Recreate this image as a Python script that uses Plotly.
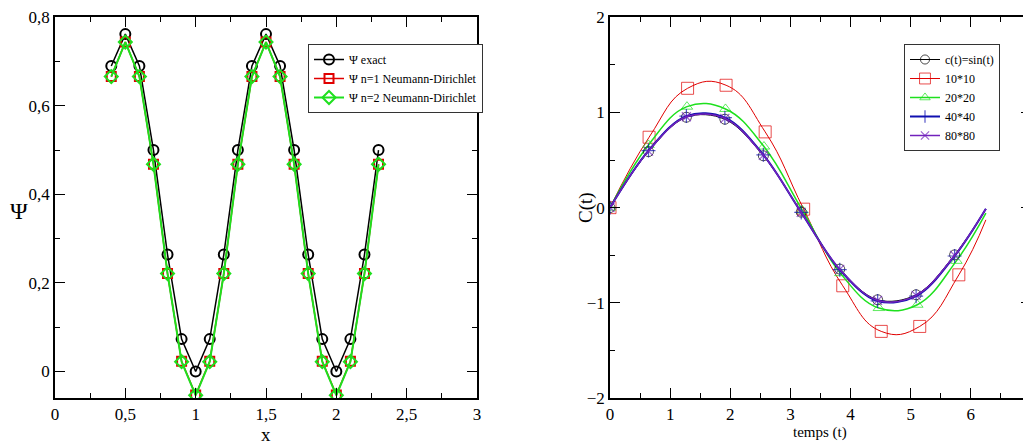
import plotly.graph_objects as go

# ---------------- data: left panel ----------------
x_psi = [0.4, 0.5, 0.6, 0.7, 0.8, 0.9, 1.0, 1.1, 1.2, 1.3, 1.4, 1.5, 1.6, 1.7, 1.8, 1.9, 2.0, 2.1, 2.2, 2.3]
psi_exact = [0.690, 0.762, 0.690, 0.500, 0.264, 0.073, 0.000, 0.073, 0.264, 0.500,
             0.690, 0.762, 0.690, 0.500, 0.264, 0.073, 0.000, 0.073, 0.264, 0.500]
psi_n1 = [0.666, 0.744, 0.666, 0.468, 0.221, 0.023, -0.053, 0.023, 0.221, 0.468,
          0.666, 0.744, 0.666, 0.468, 0.221, 0.023, -0.053, 0.023, 0.221, 0.468]
psi_n2 = [0.666, 0.744, 0.666, 0.468, 0.221, 0.022, -0.054, 0.022, 0.221, 0.468,
          0.666, 0.744, 0.666, 0.468, 0.221, 0.022, -0.054, 0.022, 0.221, 0.468]

# ---------------- data: right panel ----------------
t_common = [0, 0.64, 1.27, 1.91, 2.55, 3.18, 3.82, 4.45, 5.09, 5.73, 6.25]
c_sin = [0, 0.589, 0.950, 0.929, 0.545, -0.047, -0.646, -0.968, -0.915, -0.496, -0.016]
t_10 = [0, 0.65, 1.29, 1.93, 2.58, 3.22, 3.87, 4.51, 5.15, 5.80, 6.25]
c_10 = [0, 0.740, 1.254, 1.286, 0.796, -0.016, -0.821, -1.300, -1.248, -0.706, -0.128]
t_20 = [0, 0.64, 1.28, 1.92, 2.56, 3.20, 3.83, 4.47, 5.11, 5.76, 6.25]
c_20 = [0, 0.659, 1.061, 1.037, 0.642, -0.030, -0.688, -1.055, -1.020, -0.559, -0.058]
c_40 = [0, 0.600, 0.962, 0.945, 0.555, -0.050, -0.652, -0.980, -0.930, -0.508, -0.012]
c_80 = [0, 0.594, 0.955, 0.938, 0.550, -0.049, -0.648, -0.975, -0.922, -0.502, -0.014]

# ---------------- styling ----------------
# the page body adds an 8px margin, so the figure is sized to fill the rest of the window
OFF = 8
W, H = 1031 - OFF, 444 - OFF
FONT = "Liberation Serif"
RED = "#e00000"
GREEN = "#1ee01e"
BLUE = "#1010b0"
INDIGO = "#7221bc"

def px_x(p):
    return (p - OFF) / W

def px_y(p):
    return 1 - (p - OFF) / H

fig = go.Figure()

# left panel traces
fig.add_trace(go.Scatter(x=x_psi, y=psi_exact, mode="lines+markers", name="Ψ exact",
                         line=dict(color="black", width=1.5),
                         marker=dict(symbol="circle-open", size=10, color="black", line=dict(width=2)),
                         xaxis="x", yaxis="y", legend="legend"))
fig.add_trace(go.Scatter(x=x_psi, y=psi_n1, mode="lines+markers", name="Ψ n=1 Neumann-Dirichlet",
                         line=dict(color=RED, width=1.5),
                         marker=dict(symbol="square-open", size=9, color=RED, line=dict(width=2)),
                         xaxis="x", yaxis="y", legend="legend"))
fig.add_trace(go.Scatter(x=x_psi, y=psi_n2, mode="lines+markers", name="Ψ n=2 Neumann-Dirichlet",
                         line=dict(color=GREEN, width=2),
                         marker=dict(symbol="diamond-open", size=10, color=GREEN, line=dict(width=2)),
                         xaxis="x", yaxis="y", legend="legend"))

# right panel traces
def msize(n, s):
    return [s] * (n - 1) + [0]

fig.add_trace(go.Scatter(x=t_10, y=c_10, mode="lines+markers", name="10*10",
                         line=dict(color=RED, width=1, shape="spline", smoothing=1.3),
                         marker=dict(symbol="square-open", size=msize(len(t_10), 12), color=RED, line=dict(width=1)),
                         xaxis="x2", yaxis="y2", legend="legend2", legendrank=2))
fig.add_trace(go.Scatter(x=t_20, y=c_20, mode="lines+markers", name="20*20",
                         line=dict(color=GREEN, width=1.5, shape="spline", smoothing=1.15),
                         marker=dict(symbol="triangle-up-open", size=msize(len(t_20), 10), color=GREEN, line=dict(width=1)),
                         xaxis="x2", yaxis="y2", legend="legend2", legendrank=3))
fig.add_trace(go.Scatter(x=t_common, y=c_sin, mode="lines+markers", name="c(t)=sin(t)",
                         line=dict(color="black", width=1, shape="spline"),
                         marker=dict(symbol="circle-open", size=msize(len(t_common), 10), color="black", line=dict(width=1)),
                         xaxis="x2", yaxis="y2", legend="legend2", legendrank=1))
fig.add_trace(go.Scatter(x=t_common, y=c_40, mode="lines+markers", name="40*40",
                         line=dict(color=BLUE, width=2, shape="spline"),
                         marker=dict(symbol="cross-thin-open", size=msize(len(t_common), 10), color=BLUE, line=dict(width=1.2, color=BLUE)),
                         xaxis="x2", yaxis="y2", legend="legend2", legendrank=4))
fig.add_trace(go.Scatter(x=t_common, y=c_80, mode="lines+markers", name="80*80",
                         line=dict(color=INDIGO, width=1.5, shape="spline"),
                         marker=dict(symbol="x-thin-open", size=msize(len(t_common), 9), color=INDIGO, line=dict(width=1.2, color=INDIGO)),
                         xaxis="x2", yaxis="y2", legend="legend2", legendrank=5))

axis_common = dict(showgrid=False, zeroline=False, showline=True, linecolor="black", linewidth=1.5,
                   mirror="ticks", ticks="inside", ticklen=10, tickwidth=1.2, tickcolor="black",
                   automargin=False,
                   tickfont=dict(family=FONT, size=17, color="black"))

minor_style = dict(ticks="inside", ticklen=5, tickcolor="black", tickwidth=1.2)

fig.update_layout(
    template="none",
    width=W, height=H,
    margin=dict(l=0, r=0, t=0, b=0, pad=0, autoexpand=False),
    paper_bgcolor="white", plot_bgcolor="white",
    separators=",.",
    font=dict(family=FONT, color="black"),
    xaxis=dict(domain=[px_x(55), px_x(477)], range=[0, 3], dtick=0.5, tick0=0,
               minor=dict(dtick=0.25, **minor_style), anchor="y", **axis_common),
    yaxis=dict(domain=[px_y(398), px_y(17.3)], range=[-0.06, 0.8], dtick=0.2, tick0=0,
               minor=dict(dtick=0.1, **minor_style), anchor="x", **axis_common),
    xaxis2=dict(domain=[px_x(610), 1.0], range=[0, 7], dtick=1, tick0=0,
                minor=dict(dtick=0.5, **minor_style), anchor="y2", **axis_common),
    yaxis2=dict(domain=[px_y(398), px_y(17.3)], range=[-2, 2], dtick=1, tick0=0,
                minor=dict(dtick=0.5, **minor_style), anchor="x2", **axis_common),
    legend=dict(x=px_x(308), y=px_y(44), xanchor="left", yanchor="top",
                bordercolor="#333333", borderwidth=1, bgcolor="white",
                font=dict(family=FONT, size=12, color="black"), itemwidth=30,
                tracegroupgap=0),
    legend2=dict(x=px_x(904), y=px_y(44), xanchor="left", yanchor="top",
                 bordercolor="#333333", borderwidth=1, bgcolor="white",
                 font=dict(family=FONT, size=12, color="black"), itemwidth=30,
                 tracegroupgap=0),
    annotations=[
        dict(text="Ψ", x=px_x(19), y=px_y(211), xref="paper", yref="paper", showarrow=False,
             xanchor="center", yanchor="middle", font=dict(family=FONT, size=24, color="black")),
        dict(text="x", x=px_x(266), y=px_y(434), xref="paper", yref="paper", showarrow=False,
             xanchor="center", yanchor="middle", font=dict(family=FONT, size=19, color="black")),
        dict(text="C(t)", x=px_x(586), y=px_y(208), xref="paper", yref="paper", showarrow=False,
             xanchor="center", yanchor="middle", textangle=-90,
             font=dict(family=FONT, size=19, color="black")),
        dict(text="temps (t)", x=px_x(820), y=px_y(432), xref="paper", yref="paper", showarrow=False,
             xanchor="center", yanchor="middle", font=dict(family=FONT, size=15, color="black")),
    ],
    showlegend=True,
)

fig.write_html("out.html")
